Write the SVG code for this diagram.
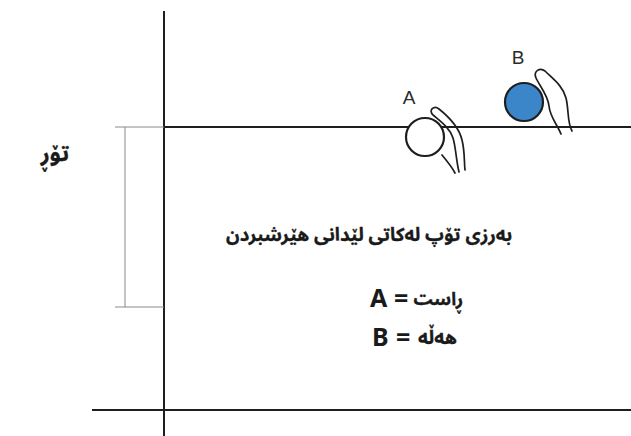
<svg xmlns="http://www.w3.org/2000/svg" width="631" height="436" viewBox="0 0 631 436">
  <style>
    .court { stroke: #1e1e1e; stroke-width: 2; fill: none; }
    .dim { stroke: #8a8a8a; stroke-width: 1; fill: none; }
    .hand { stroke: #1e1e1e; stroke-width: 1.7; fill: none; stroke-linecap: round; stroke-linejoin: round; }
    .ball { stroke: #1e1e1e; stroke-width: 2.2; }
    .lbl { font-family: "Liberation Sans", Arial, sans-serif; font-size: 19px; fill: #2a2a2a; }
    .ar { font-family: "Noto Sans Arabic", "Noto Naskh Arabic", "DejaVu Sans", sans-serif; font-weight: bold; fill: #1a1a1a; stroke: #1a1a1a; stroke-width: 0.3; }
    .lat { font-family: "Noto Sans", "Open Sans", sans-serif; font-weight: bold; font-size: 25px; fill: #1a1a1a; }
  </style>
  <rect width="631" height="436" fill="#ffffff"/>

  <!-- court lines -->
  <g id="court">
    <line class="court" x1="164" y1="11" x2="164" y2="436"/>
    <line class="court" x1="164" y1="127" x2="631" y2="127"/>
    <line class="court" x1="92" y1="410" x2="631" y2="410"/>
  </g>

  <!-- net height dimension -->
  <g id="net-height">
    <line class="dim" x1="115" y1="127" x2="164" y2="127"/>
    <line class="dim" x1="125" y1="127" x2="125" y2="307"/>
    <line class="dim" x1="115" y1="307" x2="164" y2="307"/>
    <text class="ar" x="55" y="161" font-size="22" text-anchor="middle">تۆڕ</text>
  </g>

  <!-- ball A with hand -->
  <g id="ball-a">
    <circle cx="425" cy="137" r="19" fill="#ffffff" class="ball"/>
    <path class="hand" d="M459,172 C456,160 456,148 453,138 C450,128 440,121 433,115 C428,110 434,105 439,109 C449,117 459,127 462,140 C465,152 464,162 465,170"/>
    <path class="hand" d="M442,155 C447,161 452,167 455,173"/>
    <text class="lbl" x="409" y="104" text-anchor="middle">A</text>
  </g>

  <!-- ball B with hand -->
  <g id="ball-b">
    <circle cx="524" cy="102" r="19" fill="#3a86c8" class="ball"/>
    <path class="hand" d="M561,134 C557,124 550,117 549,106 C548,95 539,85 536,78 C533,71 540,67 545,71 C553,79 563,86 566,98 C569,110 567,122 572,131"/>
    <text class="lbl" x="518" y="64" text-anchor="middle">B</text>
  </g>

  <!-- caption -->
  <g id="caption">
    <text class="ar" x="369" y="241" font-size="18.6" text-anchor="middle">بەرزی تۆپ لەکاتی لێدانی هێرشبردن</text>
    <text class="lat" x="370" y="307">A</text>
    <text class="lat" x="394" y="307">=</text>
    <text class="ar" x="463" y="305" font-size="18" text-anchor="end">ڕاست</text>
    <text class="lat" x="372" y="346">B</text>
    <text class="lat" x="396" y="346">=</text>
    <text class="ar" x="457" y="344" font-size="19" text-anchor="end">هەڵە</text>
  </g>
</svg>
